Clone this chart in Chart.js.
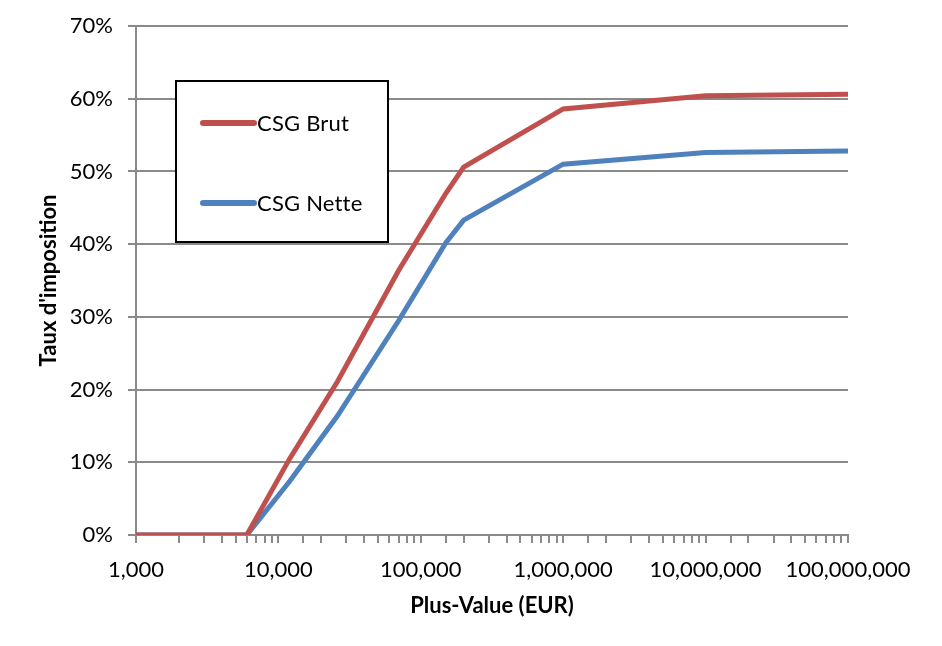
<!DOCTYPE html>
<html>
<head>
<meta charset="utf-8">
<script src="https://cdn.jsdelivr.net/npm/chart.js@4.4.0/dist/chart.umd.min.js"></script>
<style>
  html, body { margin: 0; padding: 0; background: #fff; }
  #wrap { width: 942px; height: 646px; }
</style>
</head>
<body>
<div id="wrap"><canvas id="chart" width="942" height="646"></canvas></div>
<script>
// values
const plusValues = [1000, 6000, 12000, 26000, 70000, 150000, 200000, 1000000, 10000000, 100000000];
const csgBrut = [0, 0, 10.5, 21.1, 36.4, 47.0, 50.6, 58.6, 60.4, 60.6];
const csgNette = [0, 0, 7.4, 16.4, 29.5, 40.2, 43.3, 51.0, 52.6, 52.8];
const seriesLabels = ['CSG Brut', 'CSG Nette'];
const yTicks = [0, 10, 20, 30, 40, 50, 60, 70];

const FONT = 'Lato, "Open Sans", sans-serif';
const GRID = '#8a8a8a';

const toPoints = (vals) => plusValues.map((x, i) => ({ x: x, y: vals[i] }));

// legend box drawn inside the plot, like the Excel original
const boxLegend = {
    id: 'boxLegend',
    afterDraw(chart) {
        const c = chart.ctx;
        const a = chart.chartArea;
        const bx = a.left + 40, by = a.top + 55, bw = 212, bh = 161;
        c.save();
        c.fillStyle = '#fff';
        c.fillRect(bx, by, bw, bh);
        c.strokeStyle = '#000';
        c.lineWidth = 2;
        c.strokeRect(bx, by, bw, bh);
        const rows = [42, 122];
        chart.data.datasets.forEach((ds, i) => {
            const y = by + rows[i];
            c.strokeStyle = ds.borderColor;
            c.lineWidth = 6;
            c.lineCap = 'round';
            c.beginPath();
            c.moveTo(bx + 27, y);
            c.lineTo(bx + 78, y);
            c.stroke();
            c.fillStyle = '#000';
            c.font = '22px ' + FONT;
            c.letterSpacing = '0.2px';
            c.textBaseline = 'middle';
            c.textAlign = 'left';
            c.fillText(ds.label, bx + 81, y + 1);
        });
        c.restore();
    }
};

const chart = new Chart(document.getElementById('chart'), {
    type: 'line',
    data: {
        datasets: [
            {
                label: seriesLabels[0],
                data: toPoints(csgBrut),
                borderColor: '#C0504D',
                backgroundColor: '#C0504D',
                borderWidth: 5,
                pointRadius: 0,
                tension: 0
            },
            {
                label: seriesLabels[1],
                data: toPoints(csgNette),
                borderColor: '#4F81BD',
                backgroundColor: '#4F81BD',
                borderWidth: 5,
                pointRadius: 0,
                tension: 0
            }
        ]
    },
    options: {
        responsive: false,
        animation: false,
        layout: { padding: { left: 36, right: 94, top: 25, bottom: 27 } },
        plugins: {
            legend: { display: false },
            tooltip: { enabled: false }
        },
        scales: {
            x: {
                type: 'logarithmic',
                min: 1000,
                max: 100000000,
                grid: {
                    drawOnChartArea: false,
                    drawTicks: true,
                    tickLength: 8,
                    color: GRID,
                    lineWidth: 2
                },
                border: { display: true, color: GRID, width: 2 },
                ticks: {
                    autoSkip: false,
                    maxRotation: 0,
                    padding: 14,
                    color: '#000',
                    font: { family: FONT, size: 22 },
                    callback: (v) => {
                        const l = Math.log10(v);
                        return Math.abs(l - Math.round(l)) < 1e-9 ? Number(v).toLocaleString('en-US') : '';
                    }
                },
                title: {
                    display: true,
                    text: 'Plus-Value (EUR)',
                    color: '#000',
                    font: { family: FONT, size: 22, weight: 'bold' },
                    padding: { top: 0, bottom: 0 }
                },
                afterFit: (s) => { s.height = 84; }
            },
            y: {
                min: 0,
                max: 70,
                afterBuildTicks: (s) => { s.ticks = yTicks.map(v => ({ value: v })); },
                grid: {
                    color: GRID,
                    lineWidth: 2,
                    tickLength: 8
                },
                border: { display: true, color: GRID, width: 2 },
                ticks: {
                    padding: 15,
                    color: '#000',
                    font: { family: FONT, size: 22, lineHeight: 1 },
                    callback: (v) => v + '%'
                },
                title: {
                    display: true,
                    text: "Taux d'imposition",
                    color: '#000',
                    font: { family: FONT, size: 22, weight: 'bold' },
                    padding: { top: 0, bottom: 0 }
                },
                afterFit: (s) => { s.width = 100; }
            }
        }
    },
    plugins: [boxLegend]
});
</script>
</body>
</html>
